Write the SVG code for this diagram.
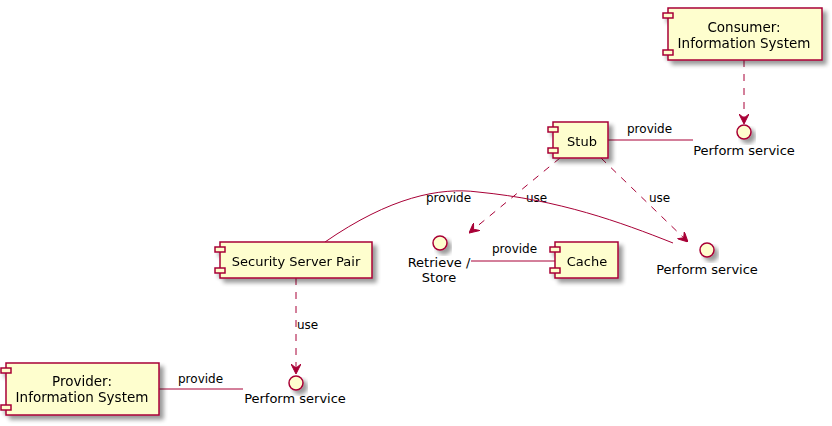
<svg xmlns="http://www.w3.org/2000/svg" width="832" height="426" viewBox="0 0 832 426">
<style>
.box{fill:#FEFECE;stroke:#A80036;stroke-width:1.5}
.ifc{fill:#FEFECE;stroke:#A80036;stroke-width:1.5}
.ln{fill:none;stroke:#A80036;stroke-width:1}
.dash{fill:none;stroke:#A80036;stroke-width:1;stroke-dasharray:7,7}
.t{font-family:"DejaVu Sans","Noto Sans",sans-serif;font-size:13px;fill:#000;text-anchor:middle}
.lbl{font-family:"DejaVu Sans","Noto Sans",sans-serif;font-size:12px;fill:#000}
</style>
<defs>
<filter id="sh" x="-20%" y="-20%" width="150%" height="160%">
<feGaussianBlur in="SourceAlpha" stdDeviation="2"/>
<feOffset dx="4" dy="4" result="o"/>
<feComponentTransfer><feFuncA type="linear" slope="0.4"/></feComponentTransfer>
<feMerge><feMergeNode/><feMergeNode in="SourceGraphic"/></feMerge>
</filter>
<marker id="arr" viewBox="0 0 10 10" refX="10" refY="5" markerWidth="10" markerHeight="10" markerUnits="userSpaceOnUse" orient="auto">
<path d="M0,0 L10,5 L0,10 L4,5 Z" fill="#A80036" stroke="#A80036" stroke-width="1"/>
</marker>
</defs>

<g id="connectors">
<path class="dash" d="M744,60 L744,124" marker-end="url(#arr)"/>
<path class="ln" d="M608,140 L693,140"/>
<text class="lbl" x="627" y="133">provide</text>
<path class="dash" d="M560,158 L469,233" marker-end="url(#arr)"/>
<text class="lbl" x="526" y="202">use</text>
<path class="dash" d="M601,158 L688,242" marker-end="url(#arr)"/>
<text class="lbl" x="649" y="202">use</text>
<path class="ln" d="M325,242 C390,197 440,187 478,192 C560,200 620,222 673,243"/>
<text class="lbl" x="426" y="202">provide</text>
<path class="ln" d="M471,261 L555,261"/>
<text class="lbl" x="492" y="253">provide</text>
<path class="dash" d="M296,278 L296,374" marker-end="url(#arr)"/>
<text class="lbl" x="297" y="329">use</text>
<path class="ln" d="M159,389 L243,389"/>
<text class="lbl" x="178" y="383">provide</text>
</g>

<g id="consumer" filter="url(#sh)">
<rect class="box" x="668" y="8" width="154" height="52"/>
<rect class="box" x="663" y="13" width="10" height="5"/>
<rect class="box" x="663" y="50" width="10" height="5"/>
<text class="t" x="744" y="32" style="font-size:13.5px">Consumer:</text>
<text class="t" x="744" y="48" style="font-size:13.5px">Information System</text>
</g>

<g id="perform-service-top">
<circle class="ifc" cx="744" cy="132" r="7" filter="url(#sh)"/>
<text class="t" x="744" y="155">Perform service</text>
</g>

<g id="stub" filter="url(#sh)">
<rect class="box" x="553" y="122" width="55" height="36"/>
<rect class="box" x="548" y="127" width="10" height="5"/>
<rect class="box" x="548" y="148" width="10" height="5"/>
<text class="t" x="582" y="145.5">Stub</text>
</g>

<g id="security-server-pair" filter="url(#sh)">
<rect class="box" x="220" y="242" width="152" height="36"/>
<rect class="box" x="215" y="247" width="10" height="5"/>
<rect class="box" x="215" y="268" width="10" height="5"/>
<text class="t" x="296" y="265.5">Security Server Pair</text>
</g>

<g id="retrieve-store">
<circle class="ifc" cx="440" cy="243" r="7" filter="url(#sh)"/>
<text class="t" x="439" y="267">Retrieve /</text>
<text class="t" x="439" y="282">Store</text>
</g>

<g id="cache" filter="url(#sh)">
<rect class="box" x="555" y="242" width="63" height="36"/>
<rect class="box" x="550" y="247" width="10" height="5"/>
<rect class="box" x="550" y="268" width="10" height="5"/>
<text class="t" x="587" y="265.5">Cache</text>
</g>

<g id="perform-service-right">
<circle class="ifc" cx="707" cy="250" r="7" filter="url(#sh)"/>
<text class="t" x="707" y="274">Perform service</text>
</g>

<g id="provider" filter="url(#sh)">
<rect class="box" x="6" y="363" width="153" height="52"/>
<rect class="box" x="1" y="368" width="10" height="5"/>
<rect class="box" x="1" y="405" width="10" height="5"/>
<text class="t" x="82" y="386" style="font-size:13.5px">Provider:</text>
<text class="t" x="82" y="402" style="font-size:13.5px">Information System</text>
</g>

<g id="perform-service-bottom">
<circle class="ifc" cx="296" cy="383" r="7" filter="url(#sh)"/>
<text class="t" x="295" y="403">Perform service</text>
</g>
</svg>
